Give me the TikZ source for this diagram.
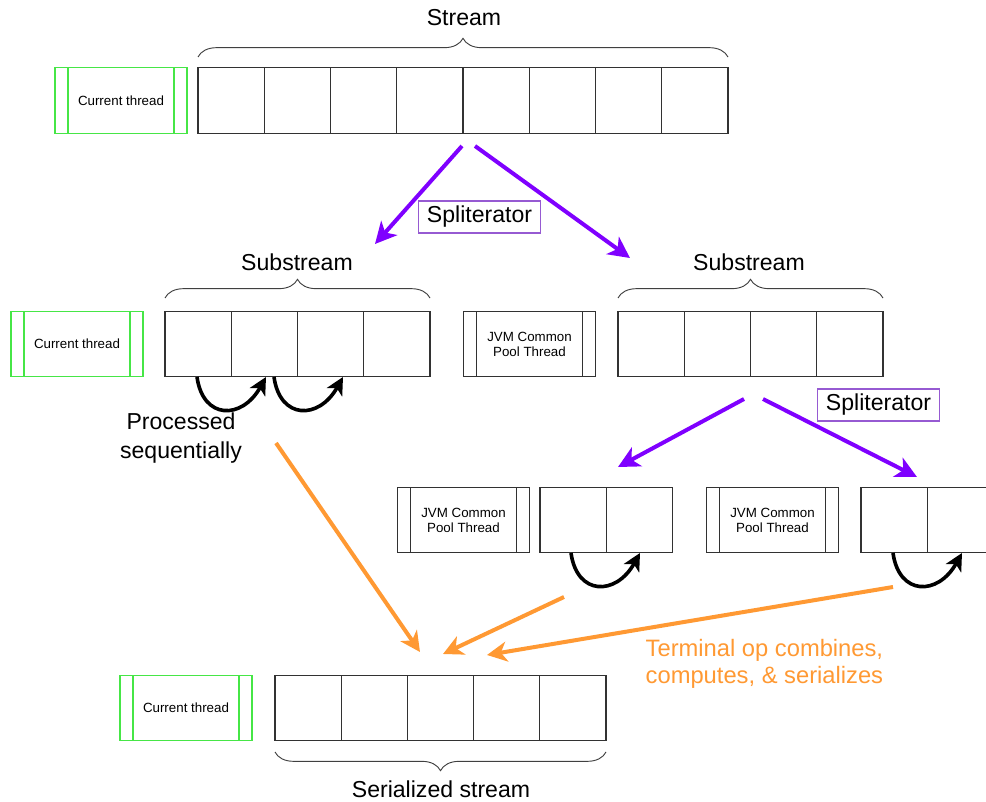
\documentclass[tikz,border=0pt]{standalone}
\usepackage{fontspec}
\setmainfont{Liberation Sans}
\usetikzlibrary{arrows.meta,decorations.pathreplacing}

\definecolor{tgreen}{RGB}{70,230,70}
\definecolor{spliter}{RGB}{127,0,255}
\definecolor{spliterbox}{RGB}{150,90,210}
\definecolor{termop}{RGB}{255,153,51}
\definecolor{cellline}{RGB}{50,50,50}

\begin{document}
\begin{tikzpicture}[x=0.75pt,y=-0.75pt,
  cell/.style={draw=cellline, line width=0.8pt, minimum width=#1,
    minimum height=48.9pt, inner sep=0pt},
  cell/.default=49.6875pt,
  thread/.style={draw=#1, line width=0.8pt, minimum width=99pt,
    minimum height=48.9pt, inner sep=0pt, align=center,
    font=\fontsize{10}{11.25}\selectfont,
    path picture={\draw[#1, line width=0.8pt]
      ([xshift=9.75pt]path picture bounding box.north west) --
      ([xshift=9.75pt]path picture bounding box.south west)
      ([xshift=-9.75pt]path picture bounding box.north east) --
      ([xshift=-9.75pt]path picture bounding box.south east);}},
  big/.style={font=\fontsize{17.3}{21.75}\selectfont},
  splitbox/.style={draw=spliterbox, line width=0.8pt, minimum width=91pt,
    minimum height=24pt, inner sep=0pt, big},
  bracedeco/.style={draw=black!75, line width=0.7pt, decorate,
    decoration={brace, amplitude=14pt}},
  splitarrow/.style={draw=spliter, line width=3pt,
    -{Stealth[length=16pt, width=16pt, inset=4.5pt]}},
  termarrow/.style={draw=termop, line width=3pt,
    -{Stealth[length=15pt, width=15pt, inset=4.5pt]}},
  seqarrow/.style={draw=black, line width=2.7pt,
    -{Stealth[length=13pt, width=13pt, inset=3.5pt]}}
]
\useasboundingbox (0,0) rectangle (986,802);

% ---------- top level: the whole stream ----------
\node[big] (streamlbl) at (464,18) {Stream};
\draw[bracedeco] (198,57) -- (728,57);
\node[thread=tgreen] (curtop) at (121,100.5) {Current thread};
\foreach \i in {1,...,8}
  \node[cell] (a\i) at ({198+66.25*(\i-0.5)},100.5) {};

% ---------- first split ----------
\node[splitbox] (split1) at (479.5,217) {Spliterator};
\coordinate (s1a) at (462,146);
\coordinate (s1b) at (375,244);
\coordinate (s1c) at (475,146);
\coordinate (s1d) at (630,258);
\draw[splitarrow] (s1a) -- (s1b);
\draw[splitarrow] (s1c) -- (s1d);

% ---------- second level ----------
\node[big] (subleft) at (297,262) {Substream};
\draw[bracedeco] (165,298) -- (430,298);
\node[thread=tgreen] (curleft) at (77,344) {Current thread};
\foreach \i in {1,...,4}
  \node[cell] (b\i) at ({165+66.25*(\i-0.5)},344) {};

\node[thread=cellline] (jvmmid) at (529.5,344) {JVM Common\\Pool Thread};

\node[big] (subright) at (749,262) {Substream};
\draw[bracedeco] (618,298) -- (883,298);
\foreach \i in {1,...,4}
  \node[cell] (c\i) at ({618+66.25*(\i-0.5)},344) {};

% sequential processing inside the left substream
\coordinate (q1a) at (197,377);
\coordinate (q1b) at (266,377);
\coordinate (q2a) at (274,377);
\coordinate (q2b) at (343,377);
\draw[seqarrow] (q1a) .. controls (203,420) and (242,420) .. (q1b);
\draw[seqarrow] (q2a) .. controls (280,420) and (319,420) .. (q2b);
\node[big, align=center] (seqlbl) at (181,438) {Processed\\sequentially};

% ---------- second split ----------
\node[splitbox] (split2) at (878.5,405) {Spliterator};
\coordinate (s2a) at (744,399);
\coordinate (s2b) at (618,467);
\coordinate (s2c) at (763,399);
\coordinate (s2d) at (917,477);
\draw[splitarrow] (s2a) -- (s2b);
\draw[splitarrow] (s2c) -- (s2d);

% ---------- third level ----------
\node[thread=cellline] (jvmA) at (463.5,520) {JVM Common\\Pool Thread};
\foreach \i in {1,2}
  \node[cell=49.8pt] (d\i) at ({540+66.4*(\i-0.5)},520) {};
\node[thread=cellline] (jvmB) at (772.5,520) {JVM Common\\Pool Thread};
\foreach \i in {1,2}
  \node[cell=49.8pt] (e\i) at ({861+66.4*(\i-0.5)},520) {};

\coordinate (q3a) at (571,553);
\coordinate (q3b) at (640,553);
\coordinate (q4a) at (893,553);
\coordinate (q4b) at (962,553);
\draw[seqarrow] (q3a) .. controls (577,596) and (616,596) .. (q3b);
\draw[seqarrow] (q4a) .. controls (899,596) and (938,596) .. (q4b);

% ---------- terminal operation ----------
\coordinate (t1a) at (276,443);
\coordinate (t1b) at (420,652);
\coordinate (t2a) at (564,597);
\coordinate (t2b) at (443,654);
\coordinate (t3a) at (893,587);
\coordinate (t3b) at (487,655);
\draw[termarrow] (t1a) -- (t1b);
\draw[termarrow] (t2a) -- (t2b);
\draw[termarrow] (t3a) -- (t3b);
\node[anchor=west, align=left, text=termop, font=\fontsize{17.8}{20.5}\selectfont]
  (termlbl) at (641,664) {Terminal op combines,\\computes, \& serializes};

% ---------- bottom level: serialized stream ----------
\node[thread=tgreen] (curbot) at (186,708) {Current thread};
\foreach \i in {1,...,5}
  \node[cell=49.65pt] (f\i) at ({275+66.2*(\i-0.5)},708) {};
\draw[bracedeco] (606,752) -- (275,752);
\node[big] (serlbl) at (441,789) {Serialized stream};
\end{tikzpicture}
\end{document}
